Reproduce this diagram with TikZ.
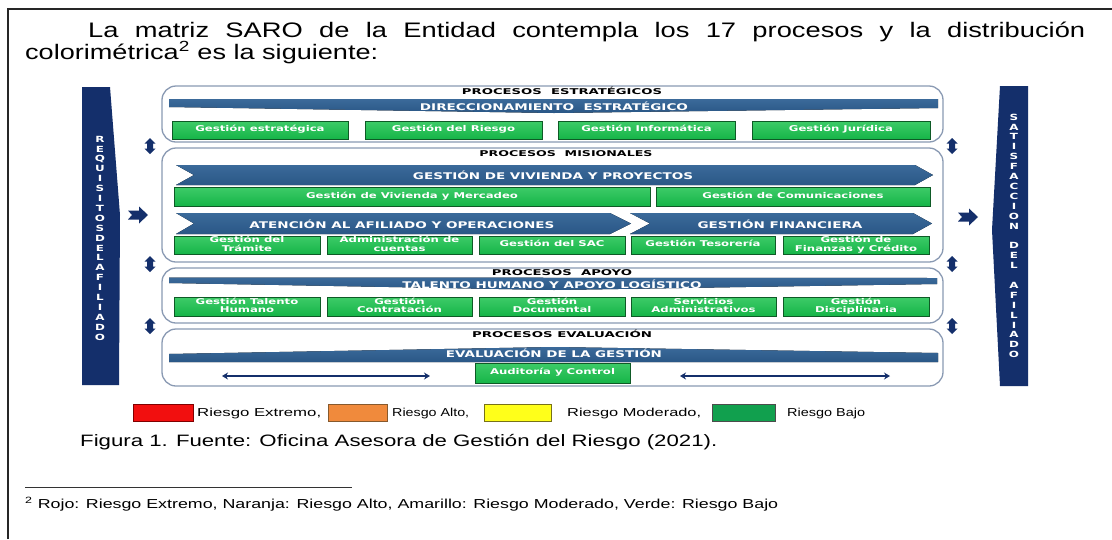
\documentclass[tikz,border=0pt]{standalone}
\usepackage{fontspec}
\setmainfont{Liberation Sans}
\newfontfamily\vb{DejaVu Sans}
\usepackage{graphicx}
\usetikzlibrary{arrows.meta,shadows}
\newcommand{\fitw}[2]{\resizebox{#1}{\height}{#2}}
\newcommand{\gtx}[1]{\scalebox{1.46}[1]{\begin{tabular}{@{}c@{}}#1\end{tabular}}}
\newcommand{\vl}[1]{\scalebox{1.4}[1]{#1}}
\definecolor{navy}{HTML}{142F6B}
\definecolor{bannc}{HTML}{2A5786}
\definecolor{bannl}{HTML}{3B6A9A}
\definecolor{grn}{HTML}{16B548}
\definecolor{grl}{HTML}{3DCB68}
\definecolor{grd}{HTML}{0E5A26}
\definecolor{pan}{HTML}{8A9AB3}
\definecolor{lred}{HTML}{F20F0F}
\definecolor{lorange}{HTML}{F08A3C}
\definecolor{lyellow}{HTML}{FFFF1A}
\definecolor{lgreen}{HTML}{11A04E}
\newcommand{\gb}[6]{\node[gbox,minimum width={(#4-#2)*1pt},minimum height={(#5-#3)*1pt}] (#1) at ({(#2+#4)/2},{(#3+#5)/2}) {\gtx{#6}};}
\begin{document}
\begin{tikzpicture}[x=1pt,y=-1pt,
  panel/.style={draw=pan,line width=1.3pt,rounded corners=14pt},
  gbox/.style={draw=grd,line width=0.6pt,top color=grl,bottom color=grn,text=white,
     font=\fontsize{8}{8.3}\vb\bfseries,inner sep=0pt,
     drop shadow={shadow xshift=1.2pt,shadow yshift=-1.2pt,fill=black!75,opacity=1}},
  btext/.style={text=white,font=\fontsize{9.2}{10}\vb\bfseries,inner sep=0pt},
  ttext/.style={text=black,font=\fontsize{8}{9}\vb\bfseries,inner sep=0pt},
  vlet/.style={text=white,font=\fontsize{8.5}{9}\vb\bfseries,inner sep=0pt},
  bann/.style={top color=bannl,bottom color=bannc,draw=none},
  lbox/.style={line width=0.8pt,minimum width=#1,minimum height=17pt,inner sep=0pt,anchor=north west},
  ltext/.style={font=\fontsize{11.5}{12}\selectfont,inner sep=0pt,anchor=base west},
  evarr/.style={draw=navy,line width=2.8pt,{Stealth[length=6pt,width=7pt]}-{Stealth[length=6pt,width=7pt]}},
  vda/.pic={\fill[navy] (0,-8) -- (5.5,-2.5) -- (3,-2.5) -- (3,2.5) -- (5.5,2.5) -- (0,8) -- (-5.5,2.5) -- (-3,2.5) -- (-3,-2.5) -- (-5.5,-2.5) -- cycle;},
  rar/.pic={\fill[navy] (-10,-4.5) -- (1,-4.5) -- (1,-8.5) -- (10,0) -- (1,8.5) -- (1,4.5) -- (-10,4.5) -- (-6,0) -- cycle;}
]
\useasboundingbox (0,0) rectangle (1112,539);
\fill[white] (0,0) rectangle (1112,539);
% page frame
\draw[line width=1.3pt,black!85] (8,539) -- (8,9) -- (1112,9);

% intro text
\node[anchor=base west,inner sep=0pt,font=\fontsize{21}{24}\selectfont] (intro1) at (88,37.5)
  {\scalebox{1.3}[1]{\hbox to 767pt{La\hfill matriz\hfill SARO\hfill de\hfill la\hfill Entidad\hfill contempla\hfill los\hfill 17\hfill procesos\hfill y\hfill la\hfill distribución}}};
\node[anchor=base west,inner sep=0pt,font=\fontsize{21}{24}\selectfont] (intro2) at (25,59.5)
  {\fitw{353pt}{colorimétrica\textsuperscript{2} es la siguiente:}};

% side bars
\fill[navy] (82,87) -- (110,87) -- (120,215) -- (119,385) -- (82,385) -- cycle;
\fill[navy] (1000,86) -- (1028,86) -- (1028,386) -- (1000,386) -- (992,230) -- cycle;
\foreach \l [count=\i from 0] in {R,E,Q,U,I,S,I,T,O,S,D,E,L,A,F,I,L,I,A,D,O}
  \node[vlet] (rq\i) at (100,{139+\i*9.9}) {\vl{\l}};
\foreach \l [count=\i from 0] in {S,A,T,I,S,F,A,C,C,I,O,N}
  \node[vlet] (sa\i) at (1014,{117+\i*9.9}) {\vl{\l}};
\foreach \l [count=\i from 13] in {D,E,L}
  \node[vlet] (de\i) at (1014,{117+\i*9.9}) {\vl{\l}};
\foreach \l [count=\i from 17] in {A,F,I,L,I,A,D,O}
  \node[vlet] (af\i) at (1014,{117+\i*9.9}) {\vl{\l}};

% panels
\draw[panel] (162,86) rectangle (943,142);
\draw[panel] (162,148) rectangle (943,262);
\draw[panel] (162,268) rectangle (943,323);
\draw[panel] (162,329) rectangle (943,386);

% panel titles
\node[ttext] (tE) at (562,91) {\fitw{200pt}{PROCESOS\ \ ESTRATÉGICOS}};
\node[ttext] (tM) at (566,154) {\fitw{173pt}{PROCESOS\ \ MISIONALES}};
\node[ttext] (tA) at (562,272.5) {\fitw{140pt}{PROCESOS\ \ APOYO}};
\node[ttext] (tV) at (562,333.5) {\fitw{180pt}{PROCESOS EVALUACIÓN}};

% banners
\fill[bann] (169,99) -- (938,99) -- (938,108) -- (554,113) -- (169,107) -- cycle;
\fill[bann] (176,165) -- (915,165) -- (933,175) -- (915,185) -- (176,185) -- (194,175) -- cycle;
\fill[bann] (176,213) -- (610,213) -- (631,223.5) -- (610,234) -- (176,234) -- (194,223.5) -- cycle;
\fill[bann] (630,213) -- (913,213) -- (932,223.5) -- (913,234) -- (630,234) -- (650,223.5) -- cycle;
\fill[bann] (169,277.5) -- (937,278) -- (937,284) -- (554,290) -- (169,283) -- cycle;
\fill[bann] (169,354) -- (554,347) -- (938,353) -- (938,362) -- (169,362) -- cycle;

\node[btext] (bD) at (554,106.5) {\fitw{268pt}{DIRECCIONAMIENTO\ \ ESTRATÉGICO}};
\node[btext] (bV) at (553,175.5) {\fitw{280pt}{GESTIÓN DE VIVIENDA Y PROYECTOS}};
\node[btext] (bA) at (402,224.5) {\fitw{305pt}{ATENCIÓN AL AFILIADO Y OPERACIONES}};
\node[btext] (bF) at (780,224.5) {\fitw{165pt}{GESTIÓN FINANCIERA}};
\node[btext] (bT) at (552,284.5) {\fitw{299pt}{TALENTO HUMANO Y APOYO LOGÍSTICO}};
\node[btext] (bE) at (554,353.5) {\fitw{216pt}{EVALUACIÓN DE LA GESTIÓN}};

% green boxes
\gb{gE}{172}{121}{348}{139}{Gestión estratégica}
\gb{gR}{365}{121}{542}{139}{Gestión del Riesgo}
\gb{gI}{558}{121}{735}{139}{Gestión Informática}
\gb{gJ}{752}{121}{930}{139}{Gestión Jurídica}

\gb{gV}{174}{187}{650}{206}{Gestión de Vivienda y Mercadeo}
\gb{gC}{656}{187}{930}{206}{Gestión de Comunicaciones}

\gb{gT}{174}{236}{320}{254}{Gestión del\\Trámite}
\gb{gA}{327}{236}{472}{254}{Administración de\\cuentas}
\gb{gS}{479}{236}{625}{254}{Gestión del SAC}
\gb{gTe}{631}{236}{775}{254}{Gestión Tesorería}
\gb{gF}{783}{236}{929}{254}{Gestión de\\Finanzas y Crédito}

\gb{gTH}{174}{297}{320}{316}{Gestión Talento\\Humano}
\gb{gCo}{327}{297}{472}{316}{Gestión\\Contratación}
\gb{gD}{479}{297}{625}{316}{Gestión\\Documental}
\gb{gSA}{631}{297}{776}{316}{Servicios\\Administrativos}
\gb{gDi}{783}{297}{929}{316}{Gestión\\Disciplinaria}

\gb{gAu}{475}{363}{630}{383}{Auditoría y Control}

% evaluation arrows
\coordinate (ea1) at (222,376);
\coordinate (ea2) at (430,376);
\coordinate (eb1) at (680,376);
\coordinate (eb2) at (890,376);
\draw[evarr] (ea1) -- (ea2);
\draw[evarr] (eb1) -- (eb2);

% small arrows
\pic at (150,146) {vda};
\pic at (150,264) {vda};
\pic at (150,326) {vda};
\pic at (952,146) {vda};
\pic at (952,264) {vda};
\pic at (952,326) {vda};
\pic at (138,215) {rar};
\pic at (968,217) {rar};

% legend
\node[lbox=60pt,draw=red!50!black,fill=lred] (lr) at (133,404) {};
\node[ltext] (lrt) at (197,416.5) {\fitw{124pt}{Riesgo Extremo,}};
\node[lbox=59pt,draw=brown!70!black,fill=lorange] (lo) at (328,404) {};
\node[ltext] (lot) at (392,416.5) {\fitw{77pt}{Riesgo Alto,}};
\node[lbox=67pt,draw=olive!80!black,fill=lyellow] (ly) at (484,404) {};
\node[ltext] (lyt) at (567,416.5) {\fitw{134pt}{Riesgo Moderado,}};
\node[lbox=63pt,draw=black!70,fill=lgreen] (lg) at (712,404) {};
\node[ltext] (lgt) at (787,416.5) {\fitw{78pt}{Riesgo Bajo}};

% caption
\node[anchor=base west,inner sep=0pt,font=\fontsize{16.5}{18}\selectfont] (cap) at (80,446)
  {\fitw{637pt}{Figura 1. Fuente: Oficina Asesora de Gestión del Riesgo (2021).}};

% footnote
\draw[line width=0.8pt,black!80] (25,487) -- (352,487);
\node[anchor=base west,inner sep=0pt,font=\fontsize{13}{15}\selectfont] (fn) at (25,508)
  {\fitw{753pt}{\textsuperscript{2} Rojo: Riesgo Extremo, Naranja: Riesgo Alto, Amarillo: Riesgo Moderado, Verde: Riesgo Bajo}};
\end{tikzpicture}
\end{document}
